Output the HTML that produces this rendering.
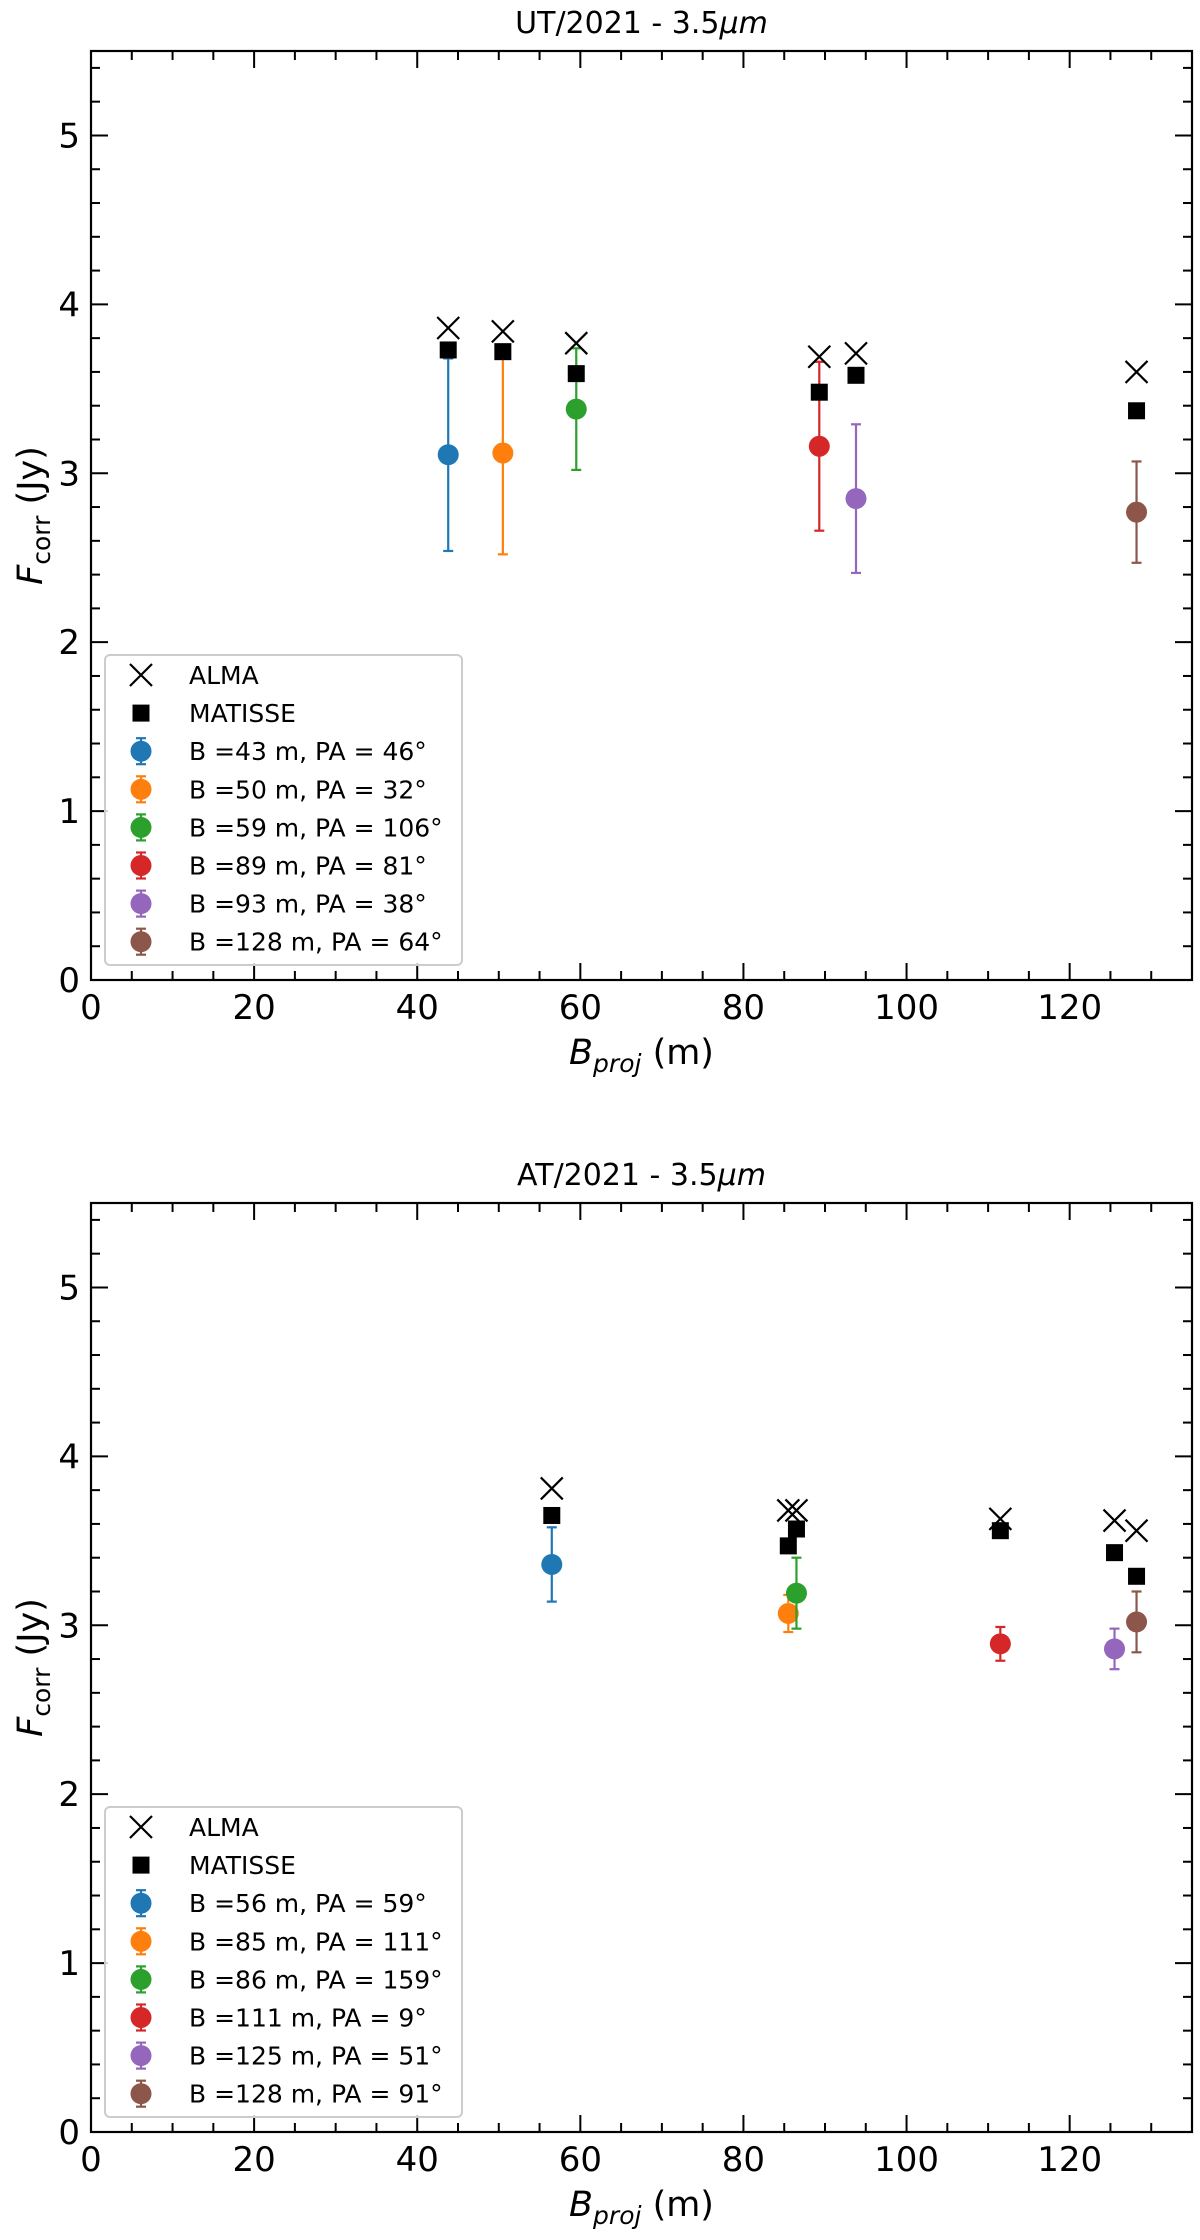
<!DOCTYPE html>
<html><head><meta charset="utf-8"><style>
html,body{margin:0;padding:0;background:#fff;}
svg{display:block;font-family:"DejaVu Sans","Liberation Sans",sans-serif;}
</style></head><body>
<svg id="fig" width="1200" height="2240" viewBox="0 0 1200 2240" xmlns="http://www.w3.org/2000/svg"></svg>
<script>
const colors = ['#1f77b4','#ff7f0e','#2ca02c','#d62728','#9467bd','#8c564b'];
const xTicks = [0,20,40,60,80,100,120];
const yTicks = [0,1,2,3,4,5];
// UT panel
const utTitle = 'UT/2021 - 3.5';
const utX = [43.8,50.5,59.5,89.3,93.8,128.2];
const utAlma = [3.86,3.84,3.77,3.69,3.71,3.60];
const utMatisse = [3.73,3.72,3.59,3.48,3.58,3.37];
const utPts = [3.11,3.12,3.38,3.16,2.85,2.77];
const utErr = [0.57,0.60,0.36,0.50,0.44,0.30];
const utLabels = ['B =43 m, PA = 46°','B =50 m, PA = 32°','B =59 m, PA = 106°','B =89 m, PA = 81°','B =93 m, PA = 38°','B =128 m, PA = 64°'];
// AT panel
const atTitle = 'AT/2021 - 3.5';
const atX = [56.5,85.5,86.5,111.5,125.5,128.2];
const atAlma = [3.81,3.68,3.68,3.63,3.62,3.56];
const atMatisse = [3.65,3.47,3.57,3.56,3.43,3.29];
const atPts = [3.36,3.07,3.19,2.89,2.86,3.02];
const atErr = [0.22,0.11,0.21,0.10,0.12,0.18];
const atLabels = ['B =56 m, PA = 59°','B =85 m, PA = 111°','B =86 m, PA = 159°','B =111 m, PA = 9°','B =125 m, PA = 51°','B =128 m, PA = 91°'];

const NS='http://www.w3.org/2000/svg';
const svg=document.getElementById('fig');
function mk(tag,attrs,parent){const e=document.createElementNS(NS,tag);for(const k in attrs)e.setAttribute(k,attrs[k]);(parent||svg).appendChild(e);return e;}

function panel(off,title,xs,alma,mat,pts,err,labels,nm){
  const L=91,R=1192,T=51+off,B=980+off;
  const xmax=135,ymax=5.5;
  const sx=v=>L+(R-L)*v/xmax, sy=v=>B-(B-T)*v/ymax;
  const g=mk('g',{});
  
  
  const t=mk('text',{x:(L+R)/2,y:T-18,'text-anchor':'middle','font-size':30},g);
  
  
  t.innerHTML=title+'<tspan font-style="italic">μm</tspan>';
  for(let v=0;v<=xmax;v+=5){
    const major=v%20===0, len=major?17:9, x=sx(v);
    mk('line',{x1:x,y1:B,x2:x,y2:B-len,stroke:'#000','stroke-width':2},g);
    mk('line',{x1:x,y1:T,x2:x,y2:T+len,stroke:'#000','stroke-width':2},g);
  }
  for(let i=0;i<=55;i+=2){
    const v=i/10, major=i%10===0, len=major?17:9, y=sy(v);
    mk('line',{x1:L,y1:y,x2:L+len,y2:y,stroke:'#000','stroke-width':2},g);
    mk('line',{x1:R,y1:y,x2:R-len,y2:y,stroke:'#000','stroke-width':2},g);
  }
  xTicks.forEach(v=>{const e=mk('text',{x:sx(v),y:B+39,'text-anchor':'middle','font-size':34},g);
    
    
    e.textContent=v;});
  yTicks.forEach(v=>{const e=mk('text',{x:80,y:sy(v)+12,'text-anchor':'end','font-size':34},g);
    
    
    e.textContent=v;});
  const xl=mk('text',{x:(L+R)/2,y:B+84,'text-anchor':'middle','font-size':35},g);
  
  
  xl.innerHTML='<tspan font-style="italic">B</tspan><tspan font-style="italic" font-size="25" dy="8">proj</tspan><tspan dy="-8"> (m)</tspan>';
  const yl=mk('text',{x:0,y:0,'text-anchor':'middle','font-size':35,transform:`translate(42,${(T+B)/2}) rotate(-90)`},g);
  
  
  yl.innerHTML='<tspan font-style="italic">F</tspan><tspan font-size="25" dy="8">corr</tspan><tspan dy="-8"> (Jy)</tspan>';
  xs.forEach((xv,i)=>{
    const x=sx(xv);
    const eb=mk('g',{},g);
    
    
    const y1=sy(pts[i]-err[i]), y2=sy(pts[i]+err[i]);
    mk('line',{x1:x,y1:y1,x2:x,y2:y2,stroke:colors[i],'stroke-width':2.2},eb);
    mk('line',{x1:x-5,y1:y1,x2:x+5,y2:y1,stroke:colors[i],'stroke-width':2.2},eb);
    mk('line',{x1:x-5,y1:y2,x2:x+5,y2:y2,stroke:colors[i],'stroke-width':2.2},eb);
    mk('circle',{cx:x,cy:sy(pts[i]),r:10.5,fill:colors[i]},eb);
    const sq=mk('rect',{x:x-8.5,y:sy(mat[i])-8.5,width:17,height:17,fill:'#000'},g);
    
    
    const ya=sy(alma[i]);
    const xm=mk('path',{d:`M${x-11},${ya-11}L${x+11},${ya+11}M${x-11},${ya+11}L${x+11},${ya-11}`,stroke:'#000','stroke-width':2.2,fill:'none'},g);
    
    
  });
  mk('rect',{x:L,y:T,width:R-L,height:B-T,fill:'none',stroke:'#000','stroke-width':2.2},g);
  const lg=mk('g',{},g);
  
  
  mk('rect',{x:105,y:655+off,width:357,height:310,rx:5,fill:'rgba(255,255,255,0.8)',stroke:'#ccc','stroke-width':2},lg);
  const rowY=k=>675+off+k*38.1;
  const mx=141, tx=189;
  mk('path',{d:`M${mx-11},${rowY(0)-11}L${mx+11},${rowY(0)+11}M${mx-11},${rowY(0)+11}L${mx+11},${rowY(0)-11}`,stroke:'#000','stroke-width':2.2},lg);
  mk('rect',{x:mx-8.5,y:rowY(1)-8.5,width:17,height:17,fill:'#000'},lg);
  const names=['ALMA','MATISSE'].concat(labels);
  names.forEach((s,k)=>{
    if(k>=2){const c=colors[k-2],y=rowY(k);
      mk('line',{x1:mx,y1:y-13,x2:mx,y2:y+13,stroke:c,'stroke-width':2.2},lg);
      mk('line',{x1:mx-5,y1:y-13,x2:mx+5,y2:y-13,stroke:c,'stroke-width':2.2},lg);
      mk('line',{x1:mx-5,y1:y+13,x2:mx+5,y2:y+13,stroke:c,'stroke-width':2.2},lg);
      mk('circle',{cx:mx,cy:y,r:10.5,fill:c},lg);}
    const e=mk('text',{x:tx,y:rowY(k)+9,'font-size':25},lg);
    
    
    e.textContent=s;
  });
}
panel(0,utTitle,utX,utAlma,utMatisse,utPts,utErr,utLabels,'ut');
panel(1152,atTitle,atX,atAlma,atMatisse,atPts,atErr,atLabels,'at');
</script>
</body></html>
